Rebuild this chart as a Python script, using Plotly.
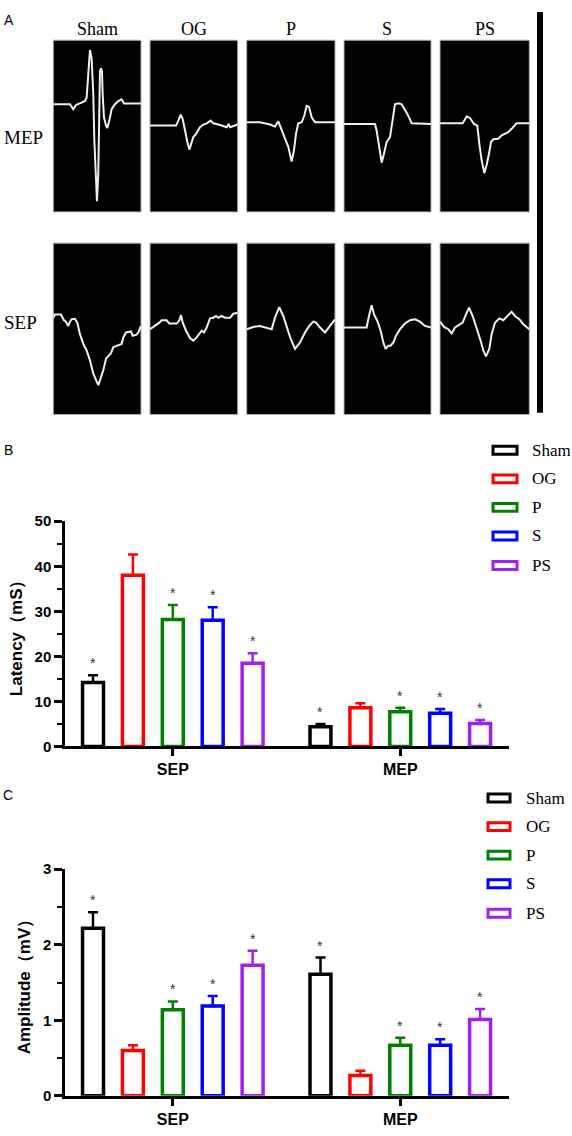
import plotly.graph_objects as go

W, H = 572, 1136

# ---------------- data ----------------
groups = ["Sham", "OG", "P", "S", "PS"]
colors = ["#000000", "#FF0000", "#008000", "#0000FF", "#A020F0"]
measures = ["SEP", "MEP"]

latency_mean_sep = [14.2, 38.0, 28.2, 28.0, 18.5]
latency_sd_sep = [1.6, 4.6, 3.2, 2.9, 2.2]
latency_mean_mep = [4.4, 8.6, 7.7, 7.4, 5.1]
latency_sd_mep = [0.6, 1.0, 0.9, 0.9, 0.8]
latency_sig_sep = [1, 0, 1, 1, 1]
latency_sig_mep = [1, 0, 1, 1, 1]

amplitude_mean_sep = [2.22, 0.60, 1.14, 1.19, 1.73]
amplitude_sd_sep = [0.21, 0.07, 0.11, 0.13, 0.19]
amplitude_mean_mep = [1.61, 0.27, 0.67, 0.67, 1.01]
amplitude_sd_mep = [0.22, 0.06, 0.10, 0.08, 0.14]
amplitude_sig_sep = [1, 0, 1, 1, 1]
amplitude_sig_mep = [1, 0, 1, 1, 1]

# waveform traces (t: % of sweep, v: % of panel height around centre)
mep_sham_t = [0, 19, 22.8, 25.9, 32.3, 36.1, 38, 39.9, 41.8, 43.7, 45.6, 46.8, 48.3, 49.8, 51.3, 52.5, 53.2, 54.4, 55.5, 56.3, 57.8, 60.1, 61.6, 63.9, 66.5, 70.3, 74.1, 77.9, 80.6, 100]
mep_sham_v = [12.7, 12.7, 9.8, 12.3, 13.7, 14.6, 16.5, 33.7, 44.3, 39.5, 18.5, -8.3, -31.3, -43.7, -27.4, 10.8, 31.8, 33.7, 31.8, 18.5, 5.1, 0.3, -1.1, 3.2, 9.8, 12.7, 14.6, 15.6, 13.1, 13.1]
mep_og_t = [0, 29.7, 32.3, 35, 37.3, 39.9, 42.6, 44.9, 47.5, 49.4, 52.1, 54, 57, 60.8, 64.6, 69.2, 72.2, 77.9, 87.5, 89.7, 91.3, 100]
mep_og_v = [0.3, 0.3, 3.2, 6.6, 4.1, -3.5, -9.3, -13.7, -9.3, -6.4, -4.9, -3.5, -0.7, 0.9, 1.6, 3.2, 1.6, 0.9, -0.7, 1.2, -0.7, 0.9]
mep_p_t = [0, 15.1, 26.4, 32, 35.8, 39.6, 43.4, 47.1, 50.9, 53.6, 55.8, 58.4, 62.3, 65.2, 67.9, 70.5, 73.6, 77.3, 100]
mep_p_v = [2.2, 2.2, 0.9, -0.3, 2.8, -2.6, -7.4, -12.1, -20.7, -14, -4.5, 1.6, 2.2, 6.0, 11.8, 11.2, 5.1, 2.2, 2.2]
mep_s_t = [0, 14.6, 35.6, 37.5, 40.6, 43.3, 46, 49, 52.9, 55.9, 58.6, 62.5, 66.3, 70.1, 73.9, 77.8, 100]
mep_s_v = [1.2, 1.2, 1.2, -2.6, -12.1, -21.3, -16, -9.3, -6.4, 5.1, 12.7, 13.3, 12.7, 9.3, 6.0, 1.6, 1.2]
mep_ps_t = [0, 25.4, 29.9, 33.6, 38.1, 41.8, 44, 46.6, 49.6, 52.2, 54.9, 57.1, 59.7, 65.3, 69, 72.8, 76.5, 80.2, 85.8, 100]
mep_ps_v = [1.6, 1.6, 5.6, 4.7, 1.2, 0.3, -10.2, -19.8, -27.4, -22.7, -16, -9.3, -7.7, -7.4, -5.4, -4.5, -3.5, -1.6, 1.6, 1.6]

sep_sham_t = [0, 1.9, 8.7, 12.2, 14.4, 17.1, 19, 20.9, 24.7, 27.4, 30.4, 34.2, 38, 41.8, 45.6, 48.7, 51.3, 54, 57, 60.1, 62.7, 65.8, 68.4, 73, 77.9, 79.8, 82.9, 88.6, 90.5, 95, 97, 100]
sep_sham_v = [6.5, 8.4, 8.4, 5.0, 4.2, 1.7, 4.2, 5.6, 5.9, 3.6, -3.1, -8.8, -12.6, -18.4, -26.1, -29.9, -32.8, -28.9, -24.1, -17.4, -16.1, -14.2, -10.7, -9.8, -8.8, -5.0, -2.1, -1.5, -4.0, -3.4, -2.1, 1.7]
sep_og_t = [0, 5.7, 10.6, 13.3, 19, 22.1, 30.4, 33.5, 35.4, 37.3, 41.1, 45.6, 49.4, 53.2, 56.3, 58.9, 61.6, 64.6, 68.4, 72.2, 75.3, 77.9, 81.7, 85.6, 91.3, 95, 100]
sep_og_v = [-0.2, 1.7, 3.6, 5.0, 5.0, 3.1, 3.1, 5.0, 8.0, 3.6, -1.1, -5.4, -6.9, -5.0, -3.1, -1.1, -2.1, 0.8, 6.1, 6.5, 7.5, 6.5, 7.5, 6.5, 6.5, 8.8, 9.4]
sep_p_t = [0, 7.5, 15.1, 22.6, 28.3, 32, 36.9, 41.4, 46, 49.8, 54.7, 60.4, 66, 70.9, 75.4, 78.5, 83, 88.7, 94.3, 100]
sep_p_v = [-0.2, 1.1, 1.7, 0.8, -0.2, 6.5, 12.6, 7.5, 0.8, -5.9, -11.7, -7.9, -2.1, 1.7, 4.2, 3.6, 0.8, -2.1, 1.7, 5.6]
sep_s_t = [0, 26, 28.7, 31.8, 34.5, 38.3, 42.1, 45.2, 47.9, 50.9, 53.6, 56.7, 59.8, 64.4, 70.1, 75.9, 81.6, 87.4, 93.1, 100]
sep_s_v = [0.8, 0.8, 7.5, 13.8, 8.4, 4.6, -1.1, -7.9, -11.7, -9.8, -9.8, -7.9, -4.0, -0.2, 3.1, 5.0, 5.6, 4.2, 1.7, 0.8]
sep_ps_t = [0, 4.5, 9.3, 13.1, 16.8, 21.6, 25.4, 29.1, 32.5, 36.6, 41, 45.5, 48.5, 51.5, 55.2, 57.8, 61.6, 66.4, 70.9, 76.5, 80.2, 83.9, 88.8, 93.3, 100]
sep_ps_v = [4.2, 1.1, -0.2, -2.7, 0.8, 2.1, 3.6, 8.4, 12.3, 7.5, 0.8, -6.9, -12.6, -16.1, -11.7, -3.1, 3.6, 6.1, 5.0, 8.4, 10.0, 7.5, 5.6, 2.7, -0.2]

mep_waves = [(mep_sham_t, mep_sham_v), (mep_og_t, mep_og_v), (mep_p_t, mep_p_v),
             (mep_s_t, mep_s_v), (mep_ps_t, mep_ps_v)]
sep_waves = [(sep_sham_t, sep_sham_v), (sep_og_t, sep_og_v), (sep_p_t, sep_p_v),
             (sep_s_t, sep_s_v), (sep_ps_t, sep_ps_v)]

# ---------------- layout geometry (pixels) ----------------
box_x = [(53.3, 141), (150, 237.7), (246.7, 335), (344, 431), (440, 529.3)]
mep_row_y = (31.7, 206)
sep_row_y = (237.7, 411.7)


def px(x):
    return x / W


def py(y):
    return 1 - y / H


def ax(k, a="x"):
    return a if k == 1 else f"{a}{k}"


def axl(k, a="x"):
    return a + "axis" + ("" if k == 1 else str(k))


fig = go.Figure()
layout = dict(
    width=W, height=H, margin=dict(l=0, r=0, t=0, b=0),
    paper_bgcolor="white", plot_bgcolor="white", showlegend=False,
    barmode="group", bargap=0.123, bargroupgap=0.475,
)
shapes = []
annotations = []

serif = "Liberation Serif, Times New Roman, serif"
sans = "Liberation Sans, Arial, sans-serif"

# ---------------- panel A: waveforms ----------------
k = 0
for row, (waves, ry) in enumerate([(mep_waves, mep_row_y), (sep_waves, sep_row_y)]):
    for c, (t, v) in enumerate(waves):
        k += 1
        bx = box_x[c]
        layout[axl(k, "x")] = dict(domain=[px(bx[0]), px(bx[1])], range=[0, 100], visible=False,
                                   fixedrange=True, anchor=ax(k, "y"))
        layout[axl(k, "y")] = dict(domain=[py(ry[1]), py(ry[0])], range=[-50, 50], visible=False,
                                   fixedrange=True, anchor=ax(k, "x"))
        shapes.append(dict(type="rect", xref=f"{ax(k)} domain", yref=f"{ax(k, 'y')} domain",
                           x0=0, x1=1, y0=0, y1=1, fillcolor="black",
                           line=dict(color="#b0b0b0", width=1), layer="below"))
        fig.add_trace(go.Scatter(x=t, y=v, mode="lines", xaxis=ax(k), yaxis=ax(k, "y"),
                                 line=dict(color="#f0f0f0", width=2), hoverinfo="skip"))

for c, g in enumerate(groups):
    bx = box_x[c]
    annotations.append(dict(text=g, x=px((bx[0] + bx[1]) / 2), y=py(20), xref="paper", yref="paper",
                            showarrow=False, font=dict(family=serif, size=18, color="black"),
                            xanchor="center", yanchor="middle"))
annotations.append(dict(text="MEP", x=px(23), y=py(130), xref="paper", yref="paper", showarrow=False,
                        font=dict(family=serif, size=19, color="black"), xanchor="center", yanchor="middle"))
annotations.append(dict(text="SEP", x=px(20), y=py(318), xref="paper", yref="paper", showarrow=False,
                        font=dict(family=serif, size=19, color="black"), xanchor="center", yanchor="middle"))
shapes.append(dict(type="line", xref="paper", yref="paper", x0=px(540), x1=px(540), y0=py(3), y1=py(410),
                   line=dict(color="black", width=6)))

# panel letters
for letter, lx, ly in [("A", 9, 11), ("B", 8, 448), ("C", 8, 798)]:
    annotations.append(dict(text=letter, x=px(lx), y=py(ly), xref="paper", yref="paper", showarrow=False,
                            font=dict(family=sans, size=14, color="black"), xanchor="center", yanchor="middle"))

# ---------------- bar panels ----------------
plot_x = (65, 509)
xr = [-0.474, 1.478]
unit_px = (plot_x[1] - plot_x[0]) / (xr[1] - xr[0])
slot_px = unit_px * (1 - layout["bargap"]) / len(groups)

panels = [
    dict(k=11, ydom=(520, 748.7), yr=[0, 50], dtick=10, minor=5, title="Latency（mS）",
         mean=(latency_mean_sep, latency_mean_mep), sd=(latency_sd_sep, latency_sd_mep),
         sig=(latency_sig_sep, latency_sig_mep), leg_y=[448, 477, 506, 535, 565], leg_x=(493, 517, 530)),
    dict(k=12, ydom=(873.3, 1103.3), yr=[0, 3], dtick=1, minor=0.5, title="Amplitude（mV）",
         mean=(amplitude_mean_sep, amplitude_mean_mep), sd=(amplitude_sd_sep, amplitude_sd_mep),
         sig=(amplitude_sig_sep, amplitude_sig_mep), leg_y=[801, 830, 859, 888, 918], leg_x=(488, 510, 524)),
]

for p in panels:
    kk = p["k"]
    layout[axl(kk, "x")] = dict(
        domain=[px(plot_x[0]), px(plot_x[1])], anchor=ax(kk, "y"), type="category",
        categoryorder="array", categoryarray=measures, range=xr, fixedrange=True,
        showline=True, linecolor="black", linewidth=2.5, ticks="outside", ticklen=7,
        tickwidth=2.5, tickcolor="black", showgrid=False, zeroline=False,
        tickfont=dict(family=sans, size=16, color="black", weight="bold"),
    )
    layout[axl(kk, "y")] = dict(
        domain=[py(p["ydom"][1]), py(p["ydom"][0])], anchor=ax(kk, "x"), range=p["yr"],
        dtick=p["dtick"], fixedrange=True, showline=True, linecolor="black", linewidth=2.5,
        ticks="outside", ticklen=8, tickwidth=2.5, tickcolor="black", showgrid=False, zeroline=False,
        tickfont=dict(family=sans, size=15, color="black", weight="bold"),
        minor=dict(dtick=p["minor"], ticks="outside", ticklen=5, tickwidth=2, tickcolor="black", showgrid=False),
        title=dict(text=p["title"], font=dict(family=sans, size=17, color="black", weight="bold"), standoff=8),
    )
    for i, g in enumerate(groups):
        means = [p["mean"][0][i], p["mean"][1][i]]
        sds = [p["sd"][0][i], p["sd"][1][i]]
        fig.add_trace(go.Bar(
            x=measures, y=means, name=g, xaxis=ax(kk), yaxis=ax(kk, "y"),
            marker=dict(color="white", line=dict(color=colors[i], width=3.5)),
            error_y=dict(type="data", array=sds, arrayminus=[0, 0], symmetric=False,
                         color=colors[i], thickness=2.5, width=5),
        ))
        for j, m in enumerate(measures):
            if p["sig"][j][i]:
                annotations.append(dict(
                    text="*", x=m, y=means[j] + sds[j], xref=ax(kk), yref=ax(kk, "y"),
                    xshift=(i - (len(groups) - 1) / 2) * slot_px, yshift=2, showarrow=False,
                    xanchor="center", yanchor="bottom", font=dict(family=sans, size=14, color="#333333"),
                ))
        # legend entries
        ly = p["leg_y"][i]
        lx0, lx1, ltx = p["leg_x"]
        shapes.append(dict(type="rect", xref="paper", yref="paper", x0=px(lx0), x1=px(lx1),
                           y0=py(ly + 4), y1=py(ly - 4), fillcolor="white",
                           line=dict(color=colors[i], width=3)))
        annotations.append(dict(text=g, x=px(ltx), y=py(ly), xref="paper", yref="paper", showarrow=False,
                                xanchor="left", yanchor="middle",
                                font=dict(family=serif, size=17, color="black")))

layout["shapes"] = shapes
layout["annotations"] = annotations
fig.update_layout(**layout)
fig.write_html("out.html", config={"displayModeBar": False},
               post_script="document.body.style.margin='0';document.body.style.overflow='hidden';")
